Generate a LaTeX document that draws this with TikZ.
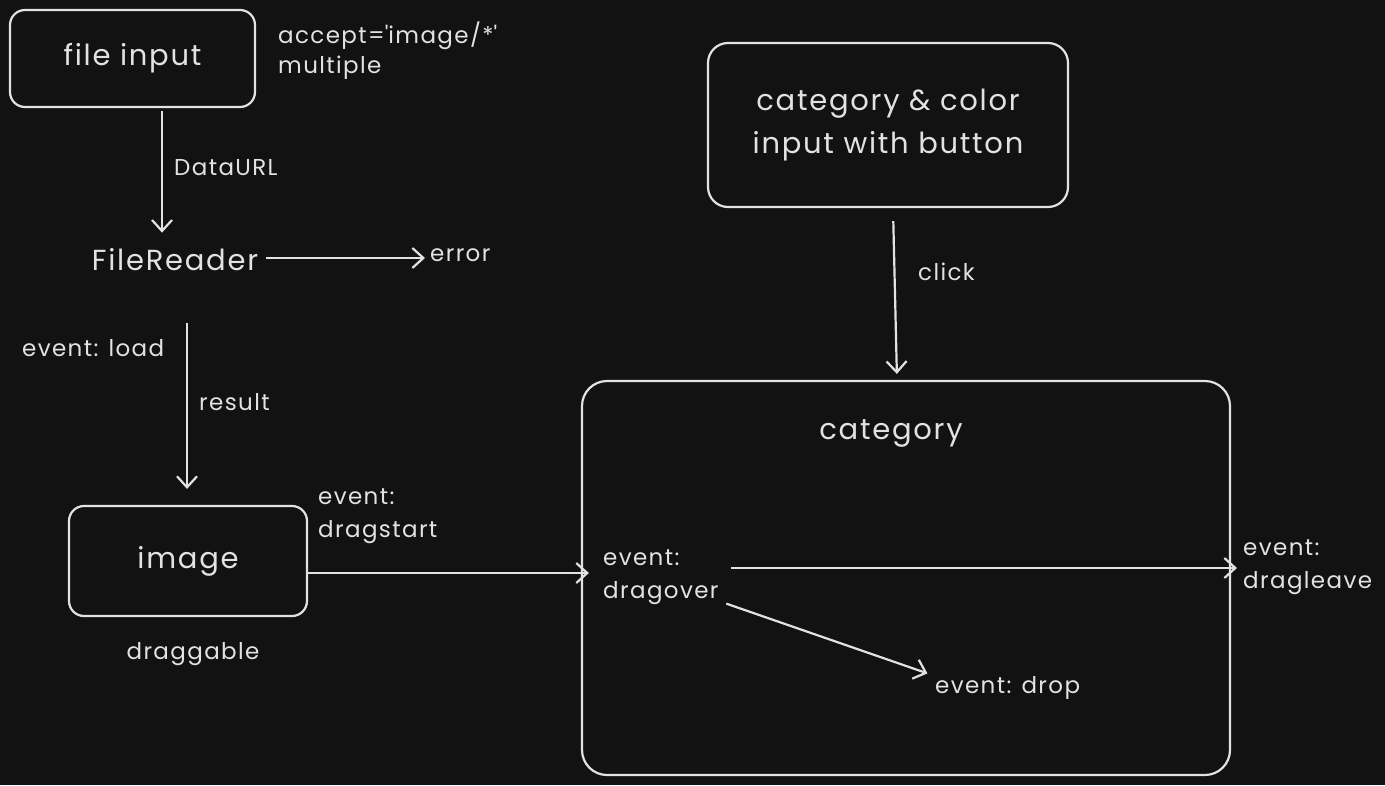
\documentclass[tikz,border=0pt]{standalone}
\usepackage{fontspec}
\setmainfont{Poppins}[LetterSpace=6]
\usetikzlibrary{arrows.meta}
\definecolor{bg}{HTML}{121212}
\definecolor{ink}{HTML}{E2E2E2}
\tikzset{
  box/.style={draw=ink, line width=2.2pt, rounded corners=15pt, inner sep=0pt},
  big/.style={text=ink, inner sep=0pt, font=\fontsize{29}{36}\selectfont},
  lbl/.style={text=ink, inner sep=0pt, font=\fontsize{23}{33}\selectfont, align=left},
  arr/.style={draw=ink, line width=2.2pt, -{Straight Barb[length=11pt,width=20pt,line width=2.2pt]}}
}
\begin{document}
\begin{tikzpicture}[x=1pt,y=-1pt]
\fill[bg] (0,0) rectangle (1385,785);
\useasboundingbox (0,0) rectangle (1385,785);

% boxes
\node[box, minimum width=245pt, minimum height=97pt] (fi) at (132.5,58.5) {};
\node[big] (fitxt) at (fi.center) {file input};
\node[box, minimum width=360pt, minimum height=164pt, rounded corners=20pt] (cc) at (888,125) {};
\node[big, align=center, font=\fontsize{29}{43}\selectfont] (cctxt) at (cc.center) {category \& color\\input with button};
\node[box, minimum width=238pt, minimum height=110pt] (img) at (188,561) {};
\node[big] (imgtxt) at (img.center) {image};
\node[box, minimum width=648pt, minimum height=394pt, rounded corners=25pt] (cat) at (906,578) {};
\node[big] (cattxt) at (891,433) {category};

% texts
\node[big] (fr) at (175,260) {FileReader};
\node[lbl, anchor=west] (acc) at (278,36) {accept=\textquotesingle image/*\textquotesingle};
\node[lbl, anchor=west] (mul) at (278,68) {multiple};
\node[lbl, anchor=west] (durl) at (174,168) {DataURL};
\node[lbl, anchor=west] (err) at (430,255) {error};
\node[lbl, anchor=west] (load) at (22,348) {event: load};
\node[lbl, anchor=west] (res) at (199,402) {result};
\node[lbl] (drg) at (193,654) {draggable};
\node[lbl, anchor=west] (dst) at (318,516) {event:\\dragstart};
\node[lbl, anchor=west] (dov) at (603,577) {event:\\dragover};
\node[lbl, anchor=west] (dlv) at (1243,567) {event:\\dragleave};
\node[lbl, anchor=west] (drop) at (935,688) {event: drop};
\node[lbl, anchor=west] (clk) at (918,272) {click};

% connectors
\draw[arr, shorten <=3pt, shorten >=16pt] ([xshift=29.5pt]fi.south) -- ([xshift=29.5pt]fi.south |- fr.north);
\draw[arr, shorten <=8pt, shorten >=5pt] ([yshift=2pt]fr.east) -- ([yshift=2pt]fr.east -| err.west);
\draw[arr, shorten >=16pt] ([xshift=12pt,yshift=-52pt]fr.south) -- ([xshift=-1pt]img.north);
\draw[arr, shorten >=-8pt] ([yshift=-12pt]img.east) -- ([yshift=5pt]cat.west);
\draw[arr, shorten <=13pt, shorten >=6pt] ([xshift=5pt]cc.south) -- ([xshift=-9pt]cat.north);
\draw[arr, shorten <=12pt, shorten >=6pt] ([yshift=9pt]dov.east) -- ([yshift=-1pt]dlv.west);
\draw[arr, shorten <=8pt, shorten >=8pt] ([yshift=-24pt]dov.east) -- ([yshift=12pt]drop.west);
\end{tikzpicture}
\end{document}
